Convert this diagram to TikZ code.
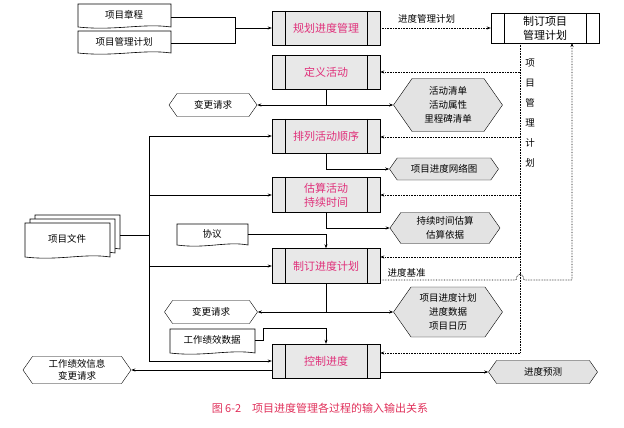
\documentclass[tikz,border=0pt]{standalone}
\usepackage{fontspec}
\setmainfont{Noto Sans CJK SC}
\usetikzlibrary{shapes.symbols,arrows.meta}
\definecolor{procred}{HTML}{E0307A}
\definecolor{capred}{HTML}{E0305A}
\begin{document}
\begin{tikzpicture}[x=1pt,y=-1pt,
  every node/.style={font=\fontsize{9.5}{11}\selectfont},
  proc/.style={draw, fill=gray!18, minimum width=108pt, minimum height=34pt, inner sep=0pt, text=procred, font=\fontsize{11}{14}\selectfont, align=center},
  hexo/.style={draw, fill=gray!22, signal, signal to=east and west, signal pointer angle=110, inner sep=0pt, align=center, font=\fontsize{9.5}{14}\selectfont},
  hexw/.style={hexo, fill=white},
  doc/.style={minimum width=#1, inner sep=0pt, align=center},
  ln/.style={draw, line width=0.6pt},
  arr/.style={ln, -{Stealth[length=4pt,width=3pt]}},
  darr/.style={arr, densely dotted, line width=0.8pt}]
\useasboundingbox (0,0) rectangle (624,428);
% document shapes
\newcommand{\docpath}[5]{\draw[fill=white, line width=0.6pt] (#1,#2) -- (#3,#2) -- (#3,#4) .. controls ({#3-0.3*(#3-#1)},{#4-#5}) and ({#1+0.4*(#3-#1)},{#4+#5}) .. (#1,#4) -- cycle;}
% process boxes
\node[proc] (p1) at (326,28) {规划进度管理};
\node[proc] (p2) at (326,72) {定义活动};
\node[proc] (p3) at (326,136) {排列活动顺序};
\node[proc, minimum height=35pt] (p4) at (326,195) {估算活动\\持续时间};
\node[proc, minimum height=35pt] (p5) at (326,266) {制订进度计划};
\node[proc] (p6) at (326,361) {控制进度};
\node[proc, text=black, minimum height=30pt, fill=white] (plan) at (545,28) {制订项目\\管理计划};
\foreach \n in {p1,p2,p3,p4,p5,p6,plan}{
  \draw ([xshift=13pt]\n.north west) -- ([xshift=13pt]\n.south west);
  \draw ([xshift=-13pt]\n.north east) -- ([xshift=-13pt]\n.south east);}
% hexagons
\node[hexw, minimum width=88pt, minimum height=23pt] (cr1) at (213,105) {变更请求};
\node[hexo, minimum width=109pt, minimum height=53pt] (o1) at (448,105) {活动清单\\活动属性\\里程碑清单};
\node[hexo, minimum width=109pt, minimum height=22pt] (o2) at (444,169) {项目进度网络图};
\node[hexo, minimum width=110pt, minimum height=31pt] (o3) at (445,228) {持续时间估算\\估算依据};
\node[hexw, minimum width=93pt, minimum height=23pt] (cr2) at (211,312) {变更请求};
\node[hexo, minimum width=109pt, minimum height=50pt] (o4) at (448,312) {项目进度计划\\进度数据\\项目日历};
\node[hexw, minimum width=108pt, minimum height=27pt, font=\fontsize{9.5}{12}\selectfont] (o5) at (77,370) {工作绩效信息\\变更请求};
\node[hexo, minimum width=109pt, minimum height=23pt] (o6) at (543,372) {进度预测};
% documents
\docpath{78}{4}{171}{27}{4}
\node[doc=93pt] (d1) at (124,15) {项目章程};
\docpath{78}{31}{171}{53}{4}
\node[doc=93pt] (d2) at (124,42) {项目管理计划};
\docpath{35}{215}{120}{249}{4}
\docpath{30}{219}{115}{253}{4}
\docpath{25}{223}{110}{257}{4}
\node[doc=85pt] (d3) at (67,239) {项目文件};
\coordinate (d3e) at (120,235);
\docpath{177}{224}{248}{245}{4}
\node[doc=71pt] (d4) at (212,234) {协议};
\docpath{170}{329}{255}{353}{4}
\node[doc=85pt] (d5) at (212,340) {工作绩效数据};
% inputs to p1
\coordinate (j1) at (235,28);
\draw[ln] (171,17) -| (j1);
\draw[ln] (171,43) -| (j1);
\draw[arr] (j1) -- (p1.west);
\draw[darr] (p1.east) -- (plan.west) node[pos=0.42, above=1pt] {进度管理计划};
% bus
\coordinate (bt) at (149,136);
\coordinate (bb) at (149,361);
\draw[ln] (bt) -- (bb);
\draw[ln] (d3e) -- (d3e -| bt);
\draw[arr] (bt) -- (p3.west);
\draw[arr] (bt |- p4) -- (p4.west);
\draw[arr] (bt |- p5) -- (p5.west);
\draw[arr] (bb) -- (p6.west);
% outputs
\coordinate (k1) at (326,105);
\draw[ln] (p2.south) -- (k1);
\draw[arr] (k1) -- (cr1.east);
\draw[arr] (k1) -- (o1.west);
\draw[arr] (p3.south) |- (o2.west);
\draw[arr] (p4.south) |- (o3.west);
\coordinate (k4) at (326,234);
\draw[ln] (d4.east |- k4) -- (k4);
\draw[arr] (k4) -- (p5.north);
\coordinate (k2) at (326,312);
\draw[ln] (p5.south) -- (k2);
\draw[arr] (k2) -- (cr2.east);
\draw[arr] (k2) -- (o4.west);
\coordinate (k5) at (326,328);
\draw[ln] (255,340) -- (263,340) -- (263,328) -- (k5);
\draw[arr] (k5) -- (p6.north);
\draw[arr] (p6.west |- o5) -- (o5.east);
\draw[arr] (p6.east |- o6) -- (o6.west);
% dashed feedback
\coordinate (vt) at (520,43);
\coordinate (v2) at (520,72);
\coordinate (v3) at (520,137);
\coordinate (v4) at (520,195);
\coordinate (v5) at (520,257);
\coordinate (v6) at (520,353);
\draw[ln, densely dotted, line width=0.8pt] (vt) -- (v6);
\foreach \c/\p in {v2/p2,v3/p3,v4/p4,v5/p5,v6/p6}{\draw[darr] (\c) -- (\c -| \p.east);}
\node[align=center, font=\fontsize{9.5}{20}\selectfont] (vtxt) at (530,113) {项\\目\\管\\理\\计\\划};
\coordinate (r1) at (572,280);
\coordinate (r2) at (572,43);
\draw[darr] (p5.east |- r1) -- (516,280) .. controls (517,272) and (523,272) .. (524,280) -- (r1) -- (r2);
\node[anchor=south west] (lbl) at (384,281) {进度基准};
% caption
\node[text=capred, font=\fontsize{11}{13}\selectfont] (cap) at (320,408) {图 6-2\quad 项目进度管理各过程的输入输出关系};
\end{tikzpicture}
\end{document}
